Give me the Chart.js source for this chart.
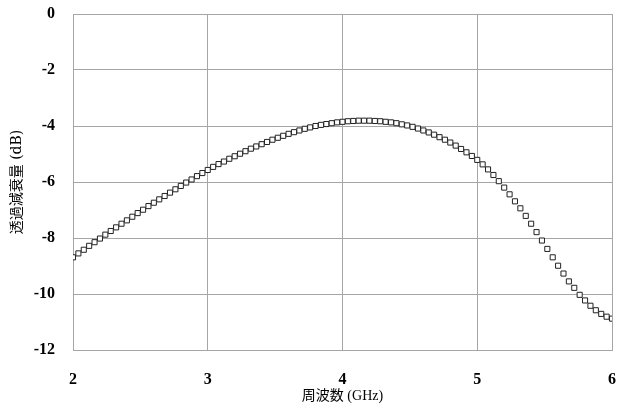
<!DOCTYPE html>
<html>
<head>
<meta charset="utf-8">
<script src="https://cdn.jsdelivr.net/npm/chart.js@4/dist/chart.umd.min.js"></script>
<style>
  html, body { margin: 0; padding: 0; background: #fff; }
  #wrap { width: 617px; height: 409px; }
</style>
</head>
<body>
<div id="wrap"><canvas id="lossChart" width="617" height="409"></canvas></div>
<script>
// 周波数 (GHz)
const freqs = [
  2.00, 2.04, 2.08, 2.12, 2.16, 2.20, 2.24, 2.28, 2.32, 2.36,
  2.40, 2.44, 2.48, 2.52, 2.56, 2.60, 2.64, 2.68, 2.72, 2.76,
  2.80, 2.84, 2.88, 2.92, 2.96, 3.00, 3.04, 3.08, 3.12, 3.16,
  3.20, 3.24, 3.28, 3.32, 3.36, 3.40, 3.44, 3.48, 3.52, 3.56,
  3.60, 3.64, 3.68, 3.72, 3.76, 3.80, 3.84, 3.88, 3.92, 3.96,
  4.00, 4.04, 4.08, 4.12, 4.16, 4.20, 4.24, 4.28, 4.32, 4.36,
  4.40, 4.44, 4.48, 4.52, 4.56, 4.60, 4.64, 4.68, 4.72, 4.76,
  4.80, 4.84, 4.88, 4.92, 4.96, 5.00, 5.04, 5.08, 5.12, 5.16,
  5.20, 5.24, 5.28, 5.32, 5.36, 5.40, 5.44, 5.48, 5.52, 5.56,
  5.60, 5.64, 5.68, 5.72, 5.76, 5.80, 5.84, 5.88, 5.92, 5.96,
  6.00
];

// 透過減衰量 (dB)
const lossDb = [
  -8.69, -8.55, -8.42, -8.28, -8.15, -8.02, -7.88, -7.75, -7.62, -7.49,
  -7.37, -7.24, -7.11, -6.99, -6.86, -6.74, -6.62, -6.50, -6.38, -6.26,
  -6.14, -6.02, -5.91, -5.79, -5.68, -5.57, -5.46, -5.36, -5.27, -5.17,
  -5.08, -4.99, -4.90, -4.81, -4.73, -4.65, -4.57, -4.49, -4.42, -4.35,
  -4.28, -4.22, -4.16, -4.10, -4.05, -4.00, -3.96, -3.93, -3.90, -3.87,
  -3.85, -3.83, -3.82, -3.81, -3.81, -3.81, -3.82, -3.83, -3.85, -3.87,
  -3.90, -3.94, -3.98, -4.03, -4.09, -4.16, -4.23, -4.31, -4.40, -4.49,
  -4.59, -4.70, -4.82, -4.94, -5.07, -5.21, -5.37, -5.55, -5.75, -5.97,
  -6.20, -6.44, -6.69, -6.94, -7.21, -7.49, -7.79, -8.09, -8.39, -8.69,
  -8.99, -9.27, -9.55, -9.78, -10.03, -10.23, -10.42, -10.58, -10.71, -10.81,
  -10.88
];

const xTicks = [2, 3, 4, 5, 6];
const yTicks = [0, -2, -4, -6, -8, -10, -12];

const serif = '"Liberation Serif", "Times New Roman", "Noto Sans CJK JP", serif';
const cjk = '"Liberation Serif", "Noto Sans CJK JP", sans-serif';
const cjkWide = '"DejaVu Serif", "Noto Sans CJK JP", sans-serif';
const gridCol = '#a6a6a6';

const points = freqs.map((f, i) => ({ x: f, y: lossDb[i] }));

new Chart(document.getElementById('lossChart').getContext('2d'), {
  type: 'scatter',
  data: {
    datasets: [{
      data: points,
      pointStyle: 'rect',
      pointRadius: 3.6,
      pointBorderWidth: 1,
      pointBorderColor: '#222',
      pointBackgroundColor: '#fff',
      showLine: false
    }]
  },
  options: {
    responsive: false,
    animation: false,
    devicePixelRatio: 1,
    layout: { padding: { left: 0, right: 5, top: 14, bottom: 0 } },
    plugins: { legend: { display: false }, tooltip: { enabled: false } },
    scales: {
      x: {
        type: 'linear',
        min: 2, max: 6,
        afterBuildTicks: s => { s.ticks = xTicks.map(v => ({ value: v })); },
        afterFit: s => { s.height = 59; s.paddingLeft = 0; s.paddingRight = 0; },
        grid: { color: gridCol, drawTicks: false },
        border: { color: gridCol },
        ticks: { color: '#000', padding: 20, font: { family: serif, size: 16, weight: 'bold' } },
        title: {
          display: true, text: '周波数 (GHz)', color: '#000',
          font: { family: cjk, size: 14 }, padding: { top: 0, bottom: 4 }
        }
      },
      y: {
        type: 'linear',
        min: -12, max: 0,
        afterBuildTicks: s => { s.ticks = yTicks.map(v => ({ value: v })); },
        afterFit: s => { s.width = 73; s.paddingTop = 0; s.paddingBottom = 0; },
        grid: { color: gridCol, drawTicks: false },
        border: { color: gridCol },
        ticks: { color: '#000', padding: 18, font: { family: serif, size: 16, weight: 'bold' } },
        title: {
          display: true, text: '透過減衰量 (dB)', color: '#000',
          font: { family: cjkWide, size: 14 }, padding: { top: 9, bottom: 0 }
        }
      }
    }
  },
  plugins: [{
    id: 'frameTop',
    afterDraw(chart) {
      const a = chart.chartArea, c = chart.ctx;
      c.save();
      c.strokeStyle = gridCol;
      c.lineWidth = 1;
      c.beginPath();
      c.moveTo(a.left, Math.round(a.top) + 0.5);
      c.lineTo(a.right, Math.round(a.top) + 0.5);
      c.stroke();
      c.restore();
    }
  }]
});
</script>
</body>
</html>
